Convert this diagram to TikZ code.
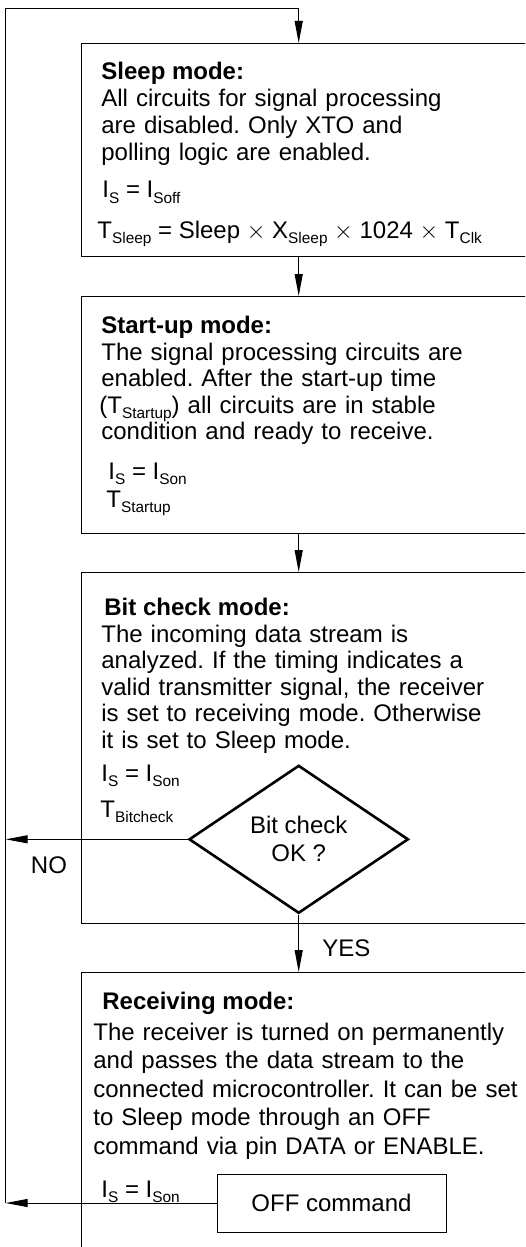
\documentclass[tikz,border=0pt]{standalone}
\usepackage{fontspec}
\setmainfont{Liberation Sans}
\frenchspacing
\usetikzlibrary{positioning,shapes.geometric,arrows.meta}
\newcommand{\sbs}[1]{\raisebox{-2.6pt}{\fontsize{7.7}{8}\selectfont #1}}
\tikzstyle{mode} = [draw, rectangle, anchor=north west, inner sep=0pt, minimum width=240pt, line width=0.5pt]
\tikzstyle{title} = [anchor=base west, inner sep=0pt, font=\fontsize{12}{14}\selectfont\bfseries]
\tikzstyle{txt} = [anchor=base west, inner sep=0pt, text width=230pt, align=left, font=\fontsize{12}{13.3}\selectfont, execute at begin node={\lineskiplimit=-20pt\relax}]
\tikzstyle{eq} = [anchor=base west, inner sep=0pt, font=\fontsize{12}{14}\selectfont]
\tikzstyle{check} = [draw, diamond, line width=1.3pt, minimum width=109.7pt, minimum height=74pt, inner sep=0pt, align=center, font=\fontsize{12}{14}\selectfont]
\tikzstyle{cmd} = [draw, rectangle, minimum width=114.5pt, minimum height=29pt, line width=0.5pt, font=\fontsize{12}{14}\selectfont]
\tikzstyle{arr} = [-{Triangle[length=11pt,width=4pt]}, line width=0.5pt]
\begin{document}
\begin{tikzpicture}[x=0.5pt, y=-0.5pt]
		\useasboundingbox (0,0) rectangle (525,1247);
		\clip (0,0) rectangle (525,1247);
		% mode boxes (cut off at the right)
		\node (sleep) [mode, minimum height=106.5pt] at (81,43) {};
		\node (start) [mode, minimum height=118.5pt] at (81,296) {};
		\node (bit) [mode, minimum height=175.5pt] at (81,572) {};
		\node (recv) [mode, minimum height=170pt] at (81,972) {};
		\node (dia) [check] at (298.7,839.3) {Bit check\\OK ?};
		\node (off) [cmd] at (331.5,1203) {OFF command};
		\coordinate (ctop) at (5.7,9);
		\coordinate (cbot) at (5.7,1203);
		% sleep mode
		\node (t1) [title] at (101,80) {Sleep mode:};
		\node (d1) [txt] at (101,107) {All circuits for signal processing\\are disabled. Only XTO and\\polling logic are enabled.};
		\node (i1) [eq] at (102,198) {I\sbs{S} = I\sbs{Soff}};
		\node (p1) [eq] at (97,238) {T\sbs{Sleep} = Sleep $\times$ X\sbs{Sleep} $\times$ 1024 $\times$ T\sbs{Clk}};
		% start-up mode
		\node (t2) [title] at (101,333) {Start-up mode:};
		\node (d2) [txt] at (101,360) {The signal processing circuits are\\enabled. After the start-up time\\\hspace*{-1pt}(T\sbs{Startup}) all circuits are in stable\\condition and ready to receive.};
		\node (i2) [eq] at (108,479) {I\sbs{S} = I\sbs{Son}};
		\node (p2) [eq] at (106,507) {T\sbs{Startup}};
		% bit check mode
		\node (t3) [title] at (104,615) {Bit check mode:};
		\node (d3) [txt] at (101,642) {The incoming data stream is\\analyzed. If the timing indicates a\\valid transmitter signal, the receiver\\is set to receiving mode. Otherwise\\it is set to Sleep mode.};
		\node (i3) [eq] at (101,781) {I\sbs{S} = I\sbs{Son}};
		\node (p3) [eq] at (100,817) {T\sbs{Bitcheck}};
		% receiving mode
		\node (t4) [title] at (102,1009) {Receiving mode:};
		\node (d4) [txt, font=\fontsize{12}{14.25}\selectfont] at (93,1040) {The receiver is turned on permanently\\and passes the data stream to the\\connected microcontroller. It can be set\\to Sleep mode through an OFF\\command via pin DATA or ENABLE.};
		\node (i4) [eq] at (101,1197) {I\sbs{S} = I\sbs{Son}};
		% flow
		\draw[arr] (cbot) -- (ctop) -| (sleep.north -| dia.north);
		\draw[arr] (sleep.south -| dia.north) -- (start.north -| dia.north);
		\draw[arr] (start.south -| dia.north) -- (bit.north -| dia.north);
		\draw[arr] (dia.west) -- (dia.west -| ctop);
		\draw[arr] (dia.south) -- (recv.north -| dia.south);
		\draw[arr] (off.west) -- (cbot);
		\node (no) [eq, anchor=base] at (49,873) {NO};
		\node (yes) [eq] at (322,956) {YES};
\end{tikzpicture}
\end{document}
